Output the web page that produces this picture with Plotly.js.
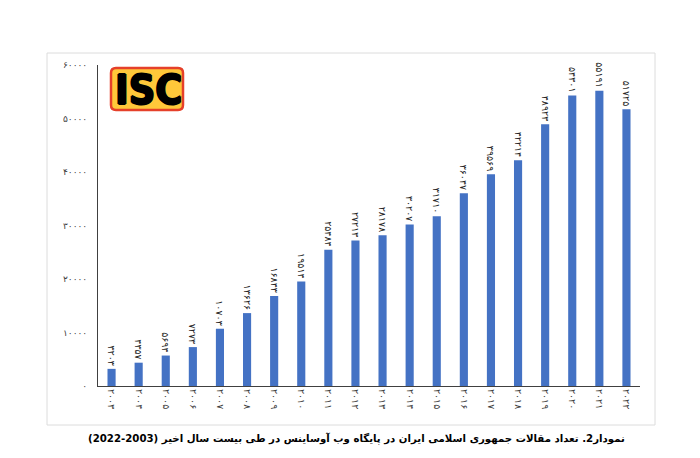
<!DOCTYPE html>
<html>
<head>
<meta charset="utf-8">
<script src="https://cdn.plot.ly/plotly-3.0.1.min.js"></script>
<style>html,body{margin:0;padding:0;background:#fff;}#chart{width:700px;height:458px;}</style>
</head>
<body>
<div id="chart"></div>
<script>
// ---- data ----
const years = [2003, 2004, 2005, 2006, 2007, 2008, 2009, 2010, 2011, 2012,
               2013, 2014, 2015, 2016, 2017, 2018, 2019, 2020, 2021, 2022];
const articles = [3203, 4357, 5694, 7273, 10703, 13626, 16843, 19514, 25484, 27213,
                  28178, 30207, 31710, 36047, 39569, 42214, 48923, 54301, 55191, 51725];
const yTickVals = [0, 10000, 20000, 30000, 40000, 50000, 60000];
const yTickText = ['۰', '۱۰۰۰۰', '۲۰۰۰۰', '۳۰۰۰۰', '۴۰۰۰۰', '۵۰۰۰۰', '۶۰۰۰۰'];
const captionText = 'نمودار2. تعداد مقالات جمهوری اسلامی ایران در پایگاه وب آوساینس در طی بیست سال اخیر (2003-2022)';
const logoText = 'ISC';

// ---- helpers ----
const fa = s => String(s).replace(/\d/g, d => '۰۱۲۳۴۵۶۷۸۹'[d]);
const yearCats = years.map(y => fa(y));

const L = 98, R = 60, T = 65, B = 72;
const W = 700, H = 458;
const pw = W - L - R, ph = H - T - B;
const px = x => (x - L) / pw;
const py = y => (H - B - y) / ph;

function roundRect(x0, y0, x1, y1, r) {
  const P = (x, y) => px(x).toFixed(5) + ',' + py(y).toFixed(5);
  return 'M' + P(x0 + r, y0) + ' L' + P(x1 - r, y0) + ' Q' + P(x1, y0) + ' ' + P(x1, y0 + r) +
         ' L' + P(x1, y1 - r) + ' Q' + P(x1, y1) + ' ' + P(x1 - r, y1) +
         ' L' + P(x0 + r, y1) + ' Q' + P(x0, y1) + ' ' + P(x0, y1 - r) +
         ' L' + P(x0, y0 + r) + ' Q' + P(x0, y0) + ' ' + P(x0 + r, y0) + ' Z';
}

const trace = {
  type: 'bar',
  x: yearCats,
  y: articles,
  text: articles.map(fa),
  textposition: 'outside',
  textangle: 90,
  constraintext: 'none',
  cliponaxis: false,
  textfont: {family: 'DejaVu Sans', size: 9.5, color: '#262626'},
  marker: {color: '#4472C4'},
  hoverinfo: 'none'
};

const layout = {
  width: W, height: H,
  margin: {l: L, r: R, t: T, b: B},
  paper_bgcolor: '#ffffff',
  plot_bgcolor: '#ffffff',
  showlegend: false,
  bargap: 0.7,
  font: {family: 'DejaVu Sans'},
  xaxis: {
    type: 'category',
    showgrid: false,
    showline: true, linecolor: '#404040', linewidth: 1,
    ticks: '',
    tickangle: 90,
    tickfont: {family: 'DejaVu Sans', size: 9.5, color: '#404040'},
    zeroline: false
  },
  yaxis: {
    range: [0, 60000],
    showgrid: false,
    showline: true, linecolor: '#404040', linewidth: 1,
    ticks: '',
    tickvals: yTickVals,
    ticktext: yTickText,
    ticklabelstandoff: 8,
    tickfont: {family: 'DejaVu Sans', size: 9, color: '#404040'},
    zeroline: false
  },
  shapes: [
    {type: 'rect', xref: 'paper', yref: 'paper',
     x0: px(47), x1: px(655), y0: py(425), y1: py(53),
     line: {color: '#dcdcdc', width: 1}, layer: 'below'},
    {type: 'path', xref: 'paper', yref: 'paper',
     path: roundRect(111, 68, 183, 110, 5),
     line: {color: '#E5402A', width: 2.5}, fillcolor: '#FFC83A', layer: 'above'}
  ],
  annotations: [
    {xref: 'paper', yref: 'paper', x: px(148), y: py(90),
     xanchor: 'center', yanchor: 'middle', showarrow: false,
     text: '<b>' + logoText + '</b>',
     font: {family: 'DejaVu Sans Condensed', size: 41, color: '#000000',
            shadow: '1px 0px 0px #000, -1px 0px 0px #000, 0px 1px 0px #000, 0px -1px 0px #000'}},
    {xref: 'paper', yref: 'paper', x: px(356), y: py(438),
     xanchor: 'center', yanchor: 'middle', showarrow: false,
     text: '<b>\u202B' + captionText + '\u202C</b>',
     font: {family: 'DejaVu Sans', size: 10.2, color: '#000000'}}
  ]
};

Plotly.newPlot('chart', [trace], layout, {displayModeBar: false, staticPlot: true});
</script>
</body>
</html>
